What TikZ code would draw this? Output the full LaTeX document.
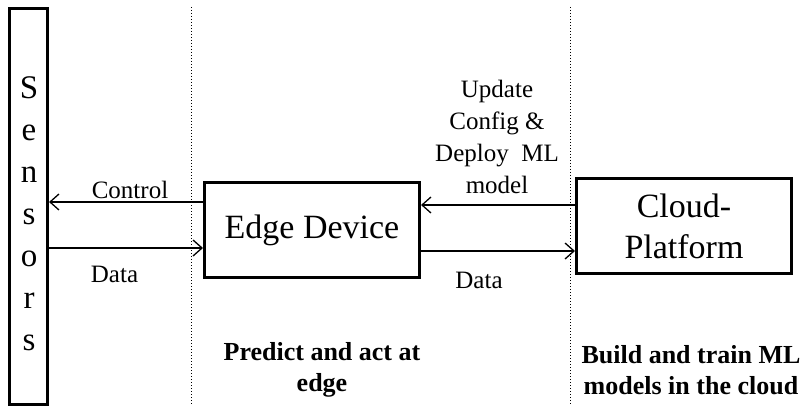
\documentclass[tikz,border=0pt]{standalone}
\usepackage{fontspec}
\setmainfont{Liberation Serif}
\usetikzlibrary{arrows.meta}
\begin{document}
\begin{tikzpicture}[x=1pt,y=-1pt,
  box/.style={draw,line width=3pt,inner sep=0pt,align=center},
  arr/.style={line width=1.3pt,-{Straight Barb[length=9pt,width=16pt,line width=1.3pt]}},
  sep/.style={line width=1pt,dotted},
  lbl/.style={inner sep=0pt,font=\fontsize{25}{32}\selectfont,align=center},
  note/.style={inner sep=0pt,font=\bfseries\fontsize{26}{31}\selectfont,align=center}]
\useasboundingbox (0,0) rectangle (806,409);

% column separators
\coordinate (s1t) at (191,7);  \coordinate (s1b) at (191,405);
\coordinate (s2t) at (570,7);  \coordinate (s2b) at (570,405);
\draw[sep] (s1t) -- (s1b);
\draw[sep] (s2t) -- (s2b);

% sensors column
\node[box,minimum width=38pt,minimum height=396pt] (sensors) at (28.5,206.5) {};
\node[inner sep=0pt,align=center,font=\fontsize{33}{42}\selectfont] (sensorstext) at (29,214)
  {S\\e\\n\\s\\o\\r\\s};

% devices
\node[box,minimum width=215pt,minimum height=95pt,font=\fontsize{34}{41}\selectfont] (edge) at (312,230) {Edge Device};
\node[box,minimum width=215pt,minimum height=95pt,font=\fontsize{34}{41}\selectfont] (cloud) at (684,226) {Cloud-\\Platform};

% sensors <-> edge
\draw[arr] ([yshift=28pt]edge.west) coordinate (c1) -- (c1 -| sensors.east);
\draw[arr] ([yshift=-18pt]sensors.east |- edge.west) coordinate (d1) -- (d1 -| edge.west);
\node[lbl] (ctrl) at (130,190) {Control};
\node[lbl] (data1) at (114.5,274) {Data};

% edge <-> cloud
\draw[arr] ([yshift=25pt]edge.east -| cloud.west) coordinate (u1) -- (u1 -| edge.east);
\draw[arr] ([yshift=-21pt]edge.east) coordinate (d2) -- (d2 -| cloud.west);
\node[lbl] (upd) at (497,137) {Update\\Config \&\\Deploy~~ML\\model};
\node[lbl] (data2) at (479,280) {Data};

% captions
\node[note] (capedge) at (322,370) {Predict and act at\\edge};
\node[note] (capcloud) at (691,370) {Build and train ML\\models in the cloud};
\end{tikzpicture}
\end{document}
